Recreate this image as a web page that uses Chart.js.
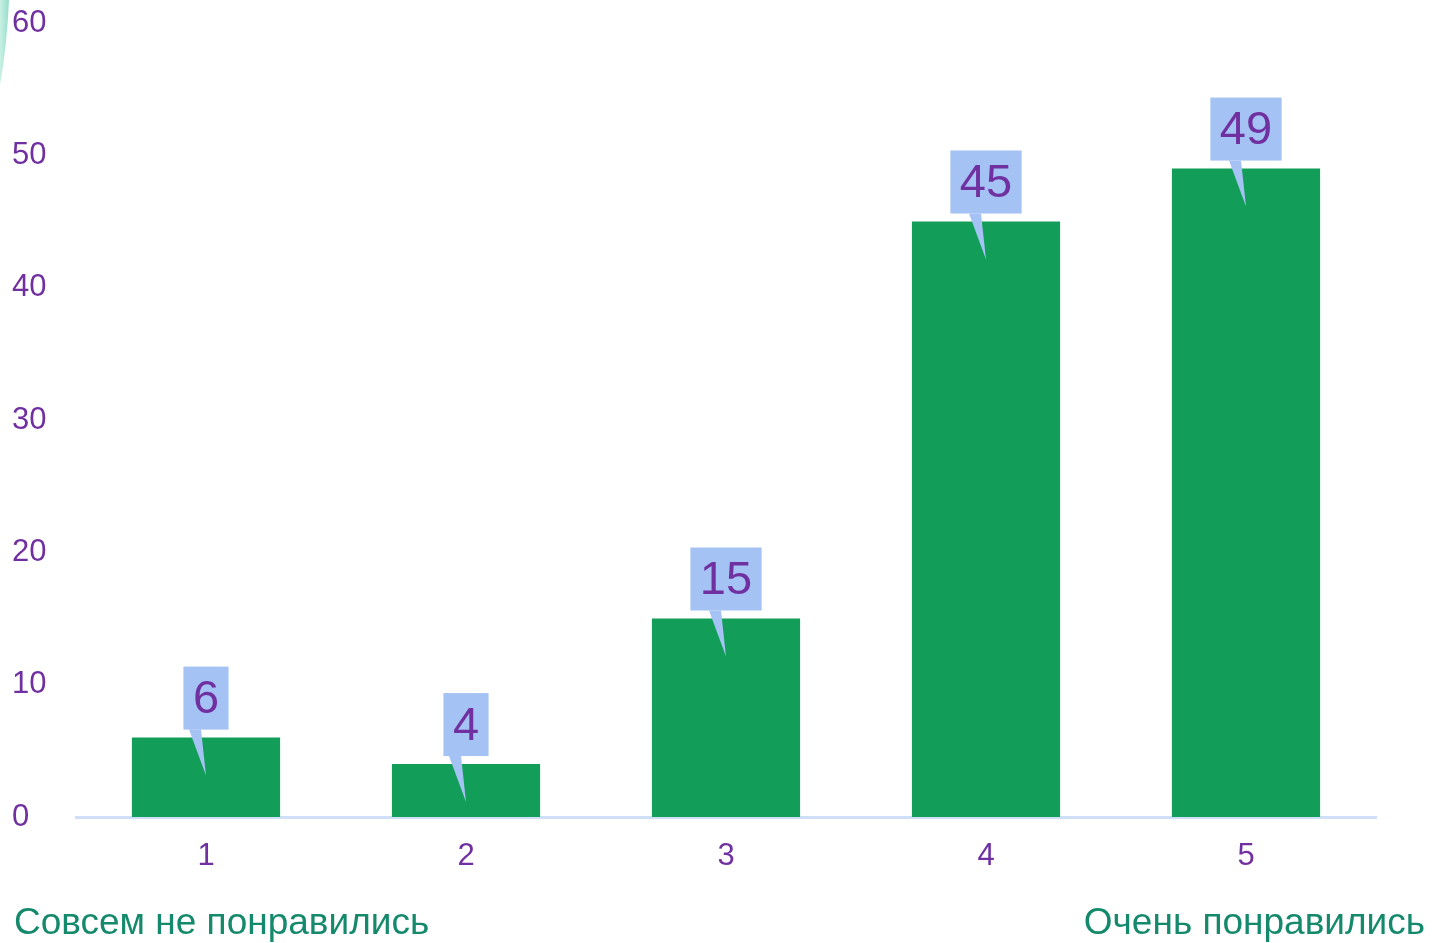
<!DOCTYPE html>
<html lang="ru">
<head>
<meta charset="utf-8">
<title>Оценки</title>
<script src="https://cdn.jsdelivr.net/npm/chart.js@4"></script>
<style>
  html, body { margin: 0; padding: 0; background: #ffffff; }
  #wrap { position: relative; width: 1433px; height: 943px; overflow: hidden; }
  canvas { position: absolute; left: 0; top: 0; }
  .podpis {
    position: absolute;
    top: 901px;
    font-family: "Liberation Sans", Arial, sans-serif;
    font-size: 37px;
    color: #15896c;
    white-space: nowrap;
  }
  #podpis-esq { left: 14px; }
  #podpis-dir { right: 8px; }
</style>
</head>
<body>
<div id="wrap">
  <canvas id="grafico" width="1433" height="943"></canvas>
  <div class="podpis" id="podpis-esq">Совсем не понравились</div>
  <div class="podpis" id="podpis-dir">Очень понравились</div>
</div>
<script>
const categorias = ["1", "2", "3", "4", "5"];
const valores = [6, 4, 15, 45, 49];
const eixoY = { min: 0, max: 60, passo: 10 };

const roxo = "#7030a0";
const fonte = "'Liberation Sans', Arial, sans-serif";

// balões com o valor acima de cada barra
const baloes = {
  id: "baloes",
  afterDatasetsDraw(chart) {
    const ctx = chart.ctx;
    const meta = chart.getDatasetMeta(0);
    ctx.save();
    ctx.font = "47px " + fonte;
    meta.data.forEach((barra, i) => {
      const texto = String(chart.data.datasets[0].data[i]);
      const largura = ctx.measureText(texto).width + 19;
      const altura = 63;
      const cx = barra.x;
      const baixo = barra.y - 8;
      const esq = cx - largura / 2;
      ctx.fillStyle = "#a4c2f4";
      ctx.fillRect(esq, baixo - altura, largura, altura);
      ctx.beginPath();
      ctx.moveTo(cx - 17, baixo);
      ctx.lineTo(cx - 5, baixo);
      ctx.lineTo(cx, barra.y + 38);
      ctx.closePath();
      ctx.fill();
      ctx.fillStyle = roxo;
      ctx.textAlign = "center";
      ctx.textBaseline = "middle";
      ctx.fillText(texto, cx, baixo - altura / 2 + 2);
    });
    ctx.restore();
  }
};

// pedaço decorativo no canto superior esquerdo
const enfeite = {
  id: "enfeite",
  beforeDraw(chart) {
    const ctx = chart.ctx;
    ctx.save();
    const g = ctx.createLinearGradient(0, 0, 10, 0);
    g.addColorStop(0, "#c9f0e4");
    g.addColorStop(1, "#8fdcc6");
    ctx.fillStyle = g;
    ctx.beginPath();
    ctx.moveTo(0, 0);
    ctx.lineTo(9, 0);
    ctx.quadraticCurveTo(7, 45, 0, 85);
    ctx.closePath();
    ctx.fill();
    ctx.restore();
  }
};

new Chart(document.getElementById("grafico"), {
  type: "bar",
  data: {
    labels: categorias,
    datasets: [{
      data: valores,
      backgroundColor: "#129e58",
      borderWidth: 0,
      barPercentage: 0.57,
      categoryPercentage: 1
    }]
  },
  options: {
    responsive: false,
    animation: false,
    layout: { padding: { left: 12, right: 57, top: 23, bottom: 0 } },
    plugins: {
      legend: { display: false },
      tooltip: { enabled: false }
    },
    scales: {
      x: {
        grid: { display: false, drawTicks: false },
        border: { display: true, color: "#cfdff7", width: 3 },
        ticks: { color: roxo, font: { family: fonte, size: 31 }, padding: 21 },
        afterFit(scale) { scale.height = 126; }
      },
      y: {
        min: eixoY.min,
        max: eixoY.max,
        grid: { display: false, drawTicks: false },
        border: { display: false },
        ticks: {
          stepSize: eixoY.passo,
          color: roxo,
          font: { family: fonte, size: 31 },
          crossAlign: "far"
        },
        afterFit(scale) { scale.width = 64; }
      }
    }
  },
  plugins: [enfeite, baloes]
});
</script>
</body>
</html>
